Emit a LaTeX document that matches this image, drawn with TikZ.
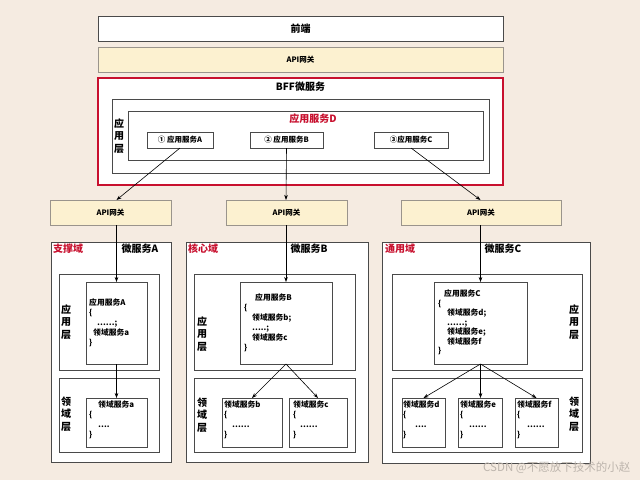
\documentclass[tikz,border=0pt]{standalone}
\usepackage{fontspec}
\setmainfont{Noto Sans CJK SC}
\usetikzlibrary{arrows.meta}
\definecolor{bg}{HTML}{F5EBE1}
\definecolor{gw}{HTML}{FCF1D0}
\definecolor{gwb}{HTML}{9A948C}
\definecolor{rd}{HTML}{C8102E}
\definecolor{ln}{HTML}{4A4A4A}
\definecolor{wm}{HTML}{BDB5AD}
\tikzset{
  box/.style={draw=ln, fill=white, line width=0.8pt, inner sep=0pt, outer sep=0pt, anchor=north west},
  sz/.style 2 args={minimum width=#1pt, minimum height=#2pt},
  gate/.style={box, fill=gw, draw=gwb, font=\fontsize{7.5}{9}\selectfont\bfseries},
  ttl/.style={inner sep=0pt, font=\fontsize{10}{12}\selectfont\bfseries},
  redt/.style={ttl, text=rd},
  vlab/.style={inner sep=0pt, align=center, font=\fontsize{10}{12.5}\selectfont\bfseries},
  code/.style={inner sep=0pt, anchor=north west, align=left, font=\fontsize{7.8}{10}\selectfont\bfseries},
  sbox/.style={box, font=\fontsize{7.5}{9}\selectfont\bfseries},
  arr/.style={-{Stealth[length=5pt,width=3.6pt]}, line width=0.6pt, draw=black}
}
\begin{document}
\begin{tikzpicture}[x=1pt,y=-1pt]
\fill[bg] (0,0) rectangle (640,480);
\useasboundingbox (0,0) rectangle (640,480);

% top
\node[box, sz={405}{25}, font=\fontsize{10}{12}\selectfont\bfseries] (fe) at (98,16) {前端};
\node[gate, sz={405}{25}] (g0) at (98,47) {API网关};

% BFF
\node[box, draw=rd, line width=1.3pt, sz={405}{107}] (bff) at (98,78) {};
\node[ttl] (bfft) at (300.5,87) {BFF微服务};
\node[box, sz={377}{74}] (bffapp) at (112,99) {};
\node[vlab] (bffv) at (119,136) {应\\用\\层};
\node[box, sz={355}{49}] (appD) at (128,111) {};
\node[redt] (appDt) at (313,119) {应用服务D};
\node[sbox, sz={66}{16}] (sA) at (147,132) {① 应用服务A};
\node[sbox, sz={73}{16}] (sB) at (250,132) {② 应用服务B};
\node[sbox, sz={74}{16}] (sC) at (374,132) {③应用服务C};

% gateways
\node[gate, sz={121}{25}] (g1) at (50,200) {API网关};
\node[gate, sz={121}{25}] (g2) at (226,200) {API网关};
\node[gate, sz={160}{25}] (g3) at (401,200) {API网关};

% Domain A
\node[box, sz={120}{220}] (dA) at (51,242) {};
\node[redt, anchor=west] (dAr) at (53,249) {支撑域};
\node[ttl] (dAt) at (140,249) {微服务A};
\node[box, sz={100}{96}] (alA) at (59,274) {};
\node[vlab] (alAv) at (66,322) {应\\用\\层};
\node[box, sz={61}{82}] (inA) at (86,282) {};
\node[code] (inAt) at (89,299) {应用服务A\\\{\\\hspace{8pt}……;\\\hspace{4pt}领域服务a\\\}};
\node[box, sz={100}{74}] (dlA) at (59,378) {};
\node[vlab] (dlAv) at (66,414) {领\\域\\层};
\node[box, sz={61}{49}] (daA) at (86,398) {};
\node[code] (daAt) at (89,401) {\hspace{9pt}领域服务a\\\{\\\hspace{9pt}….\\\}};

% Domain B
\node[box, sz={182}{220}] (dB) at (186,242) {};
\node[redt, anchor=west] (dBr) at (188,249) {核心域};
\node[ttl] (dBt) at (309,249) {微服务B};
\node[box, sz={161}{96}] (alB) at (194,274) {};
\node[vlab] (alBv) at (202,334) {应\\用\\层};
\node[box, sz={92}{82}] (inB) at (240,282) {};
\node[code] (inBt) at (244,294) {\hspace{11pt}应用服务B\\\{\\\hspace{8pt}领域服务b;\\\hspace{8pt}…..;\\\hspace{8pt}领域服务c\\\}};
\node[box, sz={161}{74}] (dlB) at (194,378) {};
\node[vlab] (dlBv) at (202,415) {领\\域\\层};
\node[box, sz={60}{49}] (dbB) at (222,398) {};
\node[code] (dbBt) at (224,401) {领域服务b\\\{\\\hspace{8pt}……\\\}};
\node[box, sz={58}{49}] (dcB) at (289,398) {};
\node[code] (dcBt) at (293,401) {领域服务c\\\{\\\hspace{7pt}……\\\}};

% Domain C
\node[box, sz={208}{221}] (dC) at (382,242) {};
\node[redt, anchor=west] (dCr) at (385,249) {通用域};
\node[ttl] (dCt) at (503,249) {微服务C};
\node[box, sz={190}{96}] (alC) at (392,274) {};
\node[vlab] (alCv) at (574,322) {应\\用\\层};
\node[box, sz={93}{82}] (inC) at (434,282) {};
\node[code, font=\fontsize{7.8}{9.5}\selectfont\bfseries] (inCt) at (438,290) {\hspace{6pt}应用服务C\\\{\\\hspace{9pt}领域服务d;\\\hspace{9pt}……;\\\hspace{9pt}领域服务e;\\\hspace{9pt}领域服务f\\\}};
\node[box, sz={190}{74}] (dlC) at (392,378) {};
\node[vlab] (dlCv) at (574,414) {领\\域\\层};
\node[box, sz={43}{49}] (ddC) at (402,398) {};
\node[code] (ddCt) at (403,401) {领域服务d\\\{\\\hspace{12pt}….\\\}};
\node[box, sz={44}{49}] (deC) at (458,398) {};
\node[code] (deCt) at (460,401) {领域服务e\\\{\\\hspace{9pt}……\\\}};
\node[box, sz={43}{49}] (dfC) at (515,398) {};
\node[code] (dfCt) at (517,401) {领域服务f\\\{\\\hspace{10pt}……\\\}};

% arrows
\draw[arr] (sA.south) -- (g1.north -| inA.north);
\draw[arr] (sB.south) -- (g2.north -| inB.north);
\draw[arr] (sC.south) -- (g3.north -| inC.north);
\draw[arr] (g1.south -| inA.north) -- (inA.north);
\draw[arr] (g2.south -| inB.north) -- (inB.north);
\draw[arr] (g3.south -| inC.north) -- (inC.north);
\draw[arr] (inA.south) -- (daA.north -| inA.south);
\draw[arr] (inB.south) -- (dbB.north);
\draw[arr] (inB.south) -- (dcB.north);
\draw[arr] (inC.south) -- (ddC.north);
\draw[arr] (inC.south) -- (deC.north -| inC.south);
\draw[arr] (inC.south) -- (dfC.north);

% watermark
\node[inner sep=0pt, anchor=west, text=wm, font=\fontsize{11.5}{13}\selectfont] (wmk) at (483,468) {CSDN @不愿放下技术的小赵};
\end{tikzpicture}
\end{document}
